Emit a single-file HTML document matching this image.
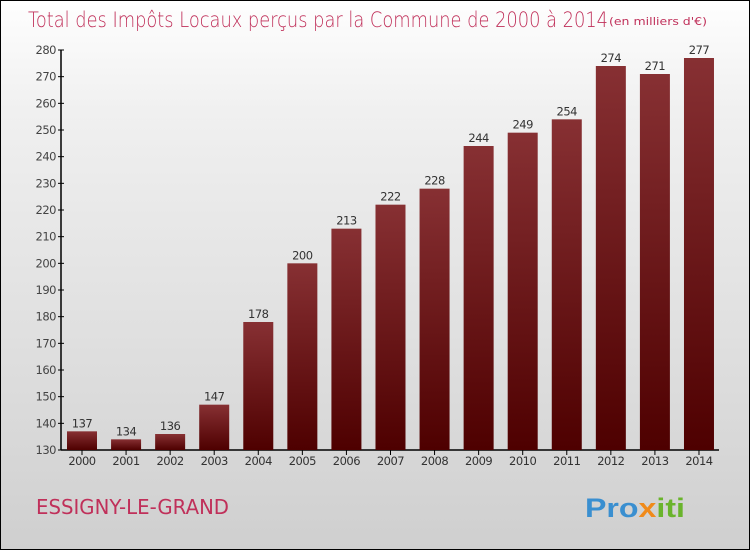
<!DOCTYPE html>
<html><head><meta charset="utf-8"><style>
html,body{margin:0;padding:0}
body{width:750px;height:550px;overflow:hidden;font-family:"DejaVu Sans","Liberation Sans",sans-serif}
#wrap{position:absolute;left:0;top:0;width:748px;height:548px;border:1px solid #000;background:linear-gradient(#fefefe,#f0f0f0 20%,#d8d8d8 80%,#cfcfcf)}
</style></head><body>
<div id="wrap">
<svg width="750" height="550" style="position:absolute;left:-1px;top:-1px">
<defs><linearGradient id="bg" x1="0" y1="0" x2="0" y2="1"><stop offset="0" stop-color="#873033"/><stop offset="1" stop-color="#4e0000"/></linearGradient></defs>
<text x="28" y="27" font-size="21" fill="#c0305a" font-family="DejaVu Sans, sans-serif" font-weight="200" textLength="580" lengthAdjust="spacingAndGlyphs">Total des Impôts Locaux perçus par la Commune de 2000 à 2014</text>
<text x="609" y="25" font-size="11" fill="#c0305a" textLength="98" lengthAdjust="spacingAndGlyphs">(en milliers d'€)</text>
<g id="axes"></g><g id="bars"></g>
<text x="36" y="514" font-size="20" fill="#c0305a" textLength="193" lengthAdjust="spacingAndGlyphs">ESSIGNY-LE-GRAND</text>
<text x="585" y="517" font-size="27" font-weight="bold" font-family="Liberation Sans, sans-serif" textLength="100" lengthAdjust="spacingAndGlyphs"><tspan fill="#3a8fd0">Pro</tspan><tspan fill="#f08a1a">x</tspan><tspan fill="#6ab42c">iti</tspan></text>
</svg></div>
<script>
const years=["2000","2001","2002","2003","2004","2005","2006","2007","2008","2009","2010","2011","2012","2013","2014"];
const values=[137,134,136,147,178,200,213,222,228,244,249,254,274,271,277];
const ticks=[130,140,150,160,170,180,190,200,210,220,230,240,250,260,270,280];
const NS="http://www.w3.org/2000/svg";
const y=v=>450-(v-130)*(400/150);
const x=i=>82+i*44.07;
function mk(t,a,p){const e=document.createElementNS(NS,t);for(const k in a)e.setAttribute(k,a[k]);p.appendChild(e);return e;}
const ax=document.getElementById('axes'),bg=document.getElementById('bars');
const yl=mk('line',{x1:61,y1:50,x2:61,y2:450,stroke:'#000','stroke-width':1.5},ax);


const xl=mk('line',{x1:61,y1:450,x2:719,y2:450,stroke:'#000','stroke-width':1.5},ax);


ticks.forEach(t=>{
 mk('line',{x1:58,x2:64,y1:y(t),y2:y(t),stroke:'#000'},ax);
 const tx=mk('text',{x:56,y:y(t)+4,'font-size':11.5,fill:'#444','text-anchor':'end','letter-spacing':'-0.5'},ax);tx.textContent=t;
 
 
});
values.forEach((v,i)=>{
 const r=mk('rect',{x:x(i)-15,y:y(v),width:30,height:450-y(v),fill:'url(#bg)'},bg);
 
 
 mk('line',{x1:x(i),x2:x(i),y1:450,y2:455,stroke:'#000'},bg);
 const l=mk('text',{x:x(i),y:y(v)-4,'font-size':11.5,fill:'#333','text-anchor':'middle','letter-spacing':'-0.5'},bg);l.textContent=v;
 
 
 const yt=mk('text',{x:x(i),y:465,'font-size':11.5,fill:'#333','text-anchor':'middle','letter-spacing':'-0.5'},bg);yt.textContent=years[i];
 
 
});
</script>
</body></html>
